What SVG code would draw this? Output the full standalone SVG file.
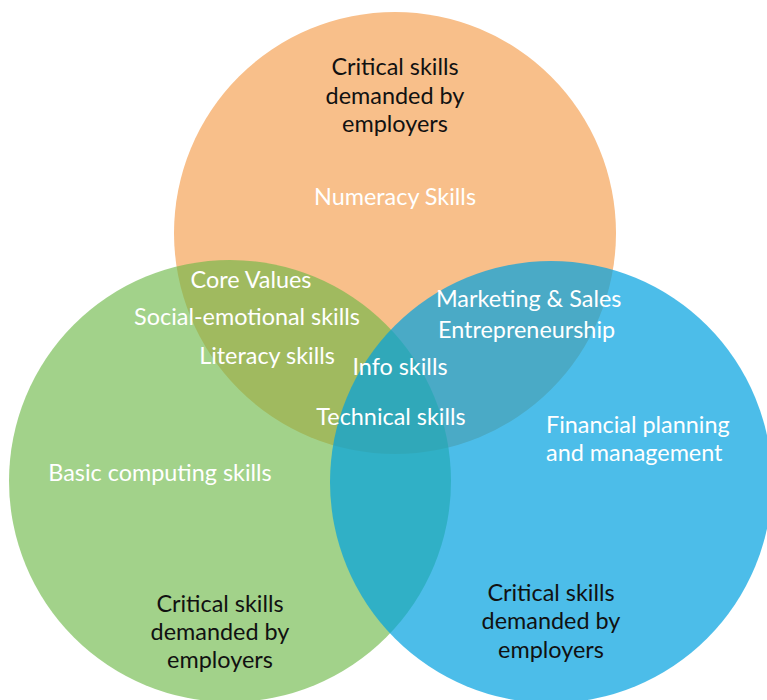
<svg xmlns="http://www.w3.org/2000/svg" width="767" height="700" viewBox="0 0 767 700">
<style>
.t{font-family:Lato,"Liberation Sans",sans-serif;font-size:23.4px;}
.w{fill:#ffffff;}
.k{fill:#111111;}
.c{text-anchor:middle;}
</style>
<rect width="767" height="700" fill="#ffffff"/>
<g id="circle-orange"><circle cx="395" cy="233" r="221" fill="#F8BF8A"/></g>
<g id="circle-green"><circle cx="230" cy="481" r="221" fill="rgb(108,184,70)" fill-opacity="0.63"/></g>
<g id="circle-blue"><circle cx="551" cy="482" r="221" fill="rgb(0,161,224)" fill-opacity="0.7"/></g>
<g id="labels-orange">
<text class="t k c" x="395" y="75">Critical skills</text>
<text class="t k c" x="395" y="104">demanded by</text>
<text class="t k c" x="395" y="132">employers</text>
<text class="t w c" x="395" y="205">Numeracy Skills</text>
</g>
<g id="labels-overlap">
<text class="t w c" x="251" y="288">Core Values</text>
<text class="t w c" x="247" y="325">Social-emotional skills</text>
<text class="t w c" x="267" y="364">Literacy skills</text>
<text class="t w c" x="400" y="375">Info skills</text>
<text class="t w c" x="391" y="425">Technical skills</text>
<text class="t w" x="436" y="307">Marketing &amp; Sales</text>
<text class="t w" x="438" y="338">Entrepreneurship</text>
</g>
<g id="labels-blue">
<text class="t w" x="546" y="433">Financial planning</text>
<text class="t w" x="546" y="461">and management</text>
<text class="t k c" x="551" y="601">Critical skills</text>
<text class="t k c" x="551" y="629">demanded by</text>
<text class="t k c" x="551" y="658">employers</text>
</g>
<g id="labels-green">
<text class="t w c" x="160" y="481">Basic computing skills</text>
<text class="t k c" x="220" y="612">Critical skills</text>
<text class="t k c" x="220" y="640">demanded by</text>
<text class="t k c" x="220" y="668">employers</text>
</g>
</svg>
